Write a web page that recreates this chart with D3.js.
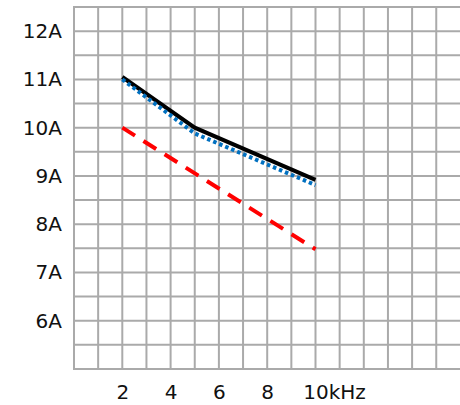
<!DOCTYPE html>
<html>
<head>
<meta charset="utf-8">
<script src="https://cdn.jsdelivr.net/npm/d3@7"></script>
<style>
  html, body { margin: 0; padding: 0; background: #fff; }
  svg { display: block; }
  text { font-family: "DejaVu Sans", Verdana, sans-serif; fill: #111; }
</style>
</head>
<body>
<svg id="chart" width="460" height="405"></svg>
<script>
// ---- data ----
const freqBlack = [2, 5, 10];
const ampBlack  = [11.05, 10.0, 8.92];
const freqBlue  = [2, 5, 10];
const ampBlue   = [11.0, 9.88, 8.81];
const freqRed   = [2, 10];
const ampRed    = [10.0, 7.48];
const yTickValues = [6, 7, 8, 9, 10, 11, 12];
const yTickLabels = ["6A", "7A", "8A", "9A", "10A", "11A", "12A"];
const xTickValues = [2, 4, 6, 8, 10];
const xTickLabels = ["2", "4", "6", "8", "10kHz"];

// ---- layout ----
const svg = d3.select("#chart");
const plotLeft = 74, plotRight = 460.4, plotTop = 7, plotBottom = 369;
const x = d3.scaleLinear().domain([0, 16]).range([plotLeft, plotRight]);
const y = d3.scaleLinear().domain([5, 12.5]).range([plotBottom, plotTop]);

// grid
const grid = svg.append("g").attr("stroke", "#aaaaaa").attr("stroke-width", 2);
grid.selectAll("line.v").data(d3.range(0, 16)).join("line")
  .attr("class", "v")
  .attr("x1", d => x(d)).attr("x2", d => x(d))
  .attr("y1", plotTop - 1).attr("y2", plotBottom + 1);
grid.selectAll("line.h").data(d3.range(5, 12.51, 0.5)).join("line")
  .attr("class", "h")
  .attr("x1", plotLeft - 1).attr("x2", 460)
  .attr("y1", d => y(d)).attr("y2", d => y(d));

// y axis labels
const yAxis = d3.axisLeft(y).tickValues(yTickValues)
  .tickFormat((d, i) => yTickLabels[i]).tickSize(0).tickPadding(12);
const gy = svg.append("g").attr("transform", `translate(${plotLeft},0)`).call(yAxis);
gy.select(".domain").remove();
gy.selectAll("text").attr("font-size", 20).attr("fill", "#111")
  .attr("font-family", '"DejaVu Sans", Verdana, sans-serif');

// x axis labels
const xAxis = d3.axisBottom(x).tickValues(xTickValues)
  .tickFormat((d, i) => xTickLabels[i]).tickSize(0).tickPadding(0);
const gx = svg.append("g").attr("transform", `translate(0,${plotBottom})`).call(xAxis);
gx.select(".domain").remove();
gx.selectAll("text").attr("font-size", 20).attr("fill", "#111")
  .attr("font-family", '"DejaVu Sans", Verdana, sans-serif')
  .attr("dy", null).attr("y", 30);
// keep the number of the last label centred on its tick
gx.selectAll("text").each(function(d, i) {
  const label = xTickLabels[i];
  const num = label.replace(/[^0-9.]/g, "");
  if (num !== label) {
    const t = d3.select(this);
    t.text(num);
    const w = this.getComputedTextLength();
    t.text(label).attr("text-anchor", "start").attr("x", -w / 2);
  }
});

// lines
const line = d3.line().x(d => x(d[0])).y(d => y(d[1]));
svg.append("path")
  .datum(freqRed.map((f, i) => [f, ampRed[i]]))
  .attr("d", line).attr("fill", "none")
  .attr("stroke", "#ff0000").attr("stroke-width", 4)
  .attr("stroke-dasharray", "15,10");
svg.append("path")
  .datum(freqBlack.map((f, i) => [f, ampBlack[i]]))
  .attr("d", line).attr("fill", "none")
  .attr("stroke", "#000").attr("stroke-width", 4);
svg.append("path")
  .datum(freqBlue.map((f, i) => [f, ampBlue[i]]))
  .attr("d", line).attr("fill", "none")
  .attr("stroke", "#0070c0").attr("stroke-width", 4)
  .attr("stroke-dasharray", "3.5,3");
</script>
</body>
</html>
